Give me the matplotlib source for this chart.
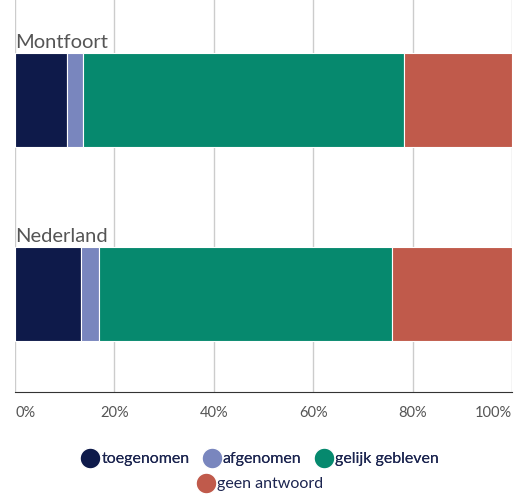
import numpy as np
import matplotlib.pyplot as plt
from matplotlib.lines import Line2D

plt.rcParams['font.family'] = ['Lato', 'DejaVu Sans']

regions = ['Montfoort', 'Nederland']
categories = ['toegenomen', 'afgenomen', 'gelijk gebleven', 'geen antwoord']
values = {
    'toegenomen': [10.5, 13.2],
    'afgenomen': [3.2, 3.8],
    'gelijk gebleven': [64.5, 58.9],
    'geen antwoord': [21.8, 24.1],
}
colors = ['#0e1a4a', '#7986be', '#06896e', '#c05a4b']

fig = plt.figure(figsize=(5.16, 4.96), dpi=100)
ax = fig.add_axes([15/516, 1 - 392/496, 497/516, 392/496])

y = np.arange(len(regions))
left = np.zeros(len(regions))
for cat, col in zip(categories, colors):
    vals = np.array(values[cat])
    ax.barh(y, vals, left=left, height=0.485, color=col,
            edgecolor='white', linewidth=0.8, zorder=2)
    left += vals

for i, name in enumerate(regions):
    ax.text(0, i - 0.27, name, fontsize=14.5, color='#555555', va='baseline', ha='left')

ax.set_xlim(0, 100)
ax.set_ylim(1.505, -0.515)
ticks = np.arange(0, 101, 20)
ax.set_xticks(ticks)
ax.set_xticklabels([f'{t}%' for t in ticks])
ax.set_yticks([])
ax.grid(axis='x', color='#cccccc', linewidth=1, zorder=0)
for s in ['top', 'left', 'right']:
    ax.spines[s].set_visible(False)
ax.spines['bottom'].set_color('#333333')
ax.tick_params(axis='x', length=0, pad=10, labelsize=10.5, labelcolor='#555555')
tl = ax.get_xticklabels()
tl[0].set_ha('left')
tl[-1].set_ha('right')

handles = [Line2D([], [], marker='o', linestyle='', markersize=15,
                  markerfacecolor=c, markeredgecolor='white') for c in colors]
leg1 = fig.legend(handles[:3], categories[:3], loc='center', bbox_to_anchor=(0.5, 1 - 459/496),
                  ncol=3, frameon=False, fontsize=11.5, handletextpad=-0.1, handlelength=1.6,
                  columnspacing=0.6, labelcolor='#1c2550')
fig.add_artist(leg1)
fig.legend(handles[3:], categories[3:], loc='center', bbox_to_anchor=(0.5, 1 - 484/496),
           ncol=1, frameon=False, fontsize=11.5, handletextpad=-0.1, handlelength=1.6,
           labelcolor='#1c2550')

fig.savefig('out.png', dpi=100)
